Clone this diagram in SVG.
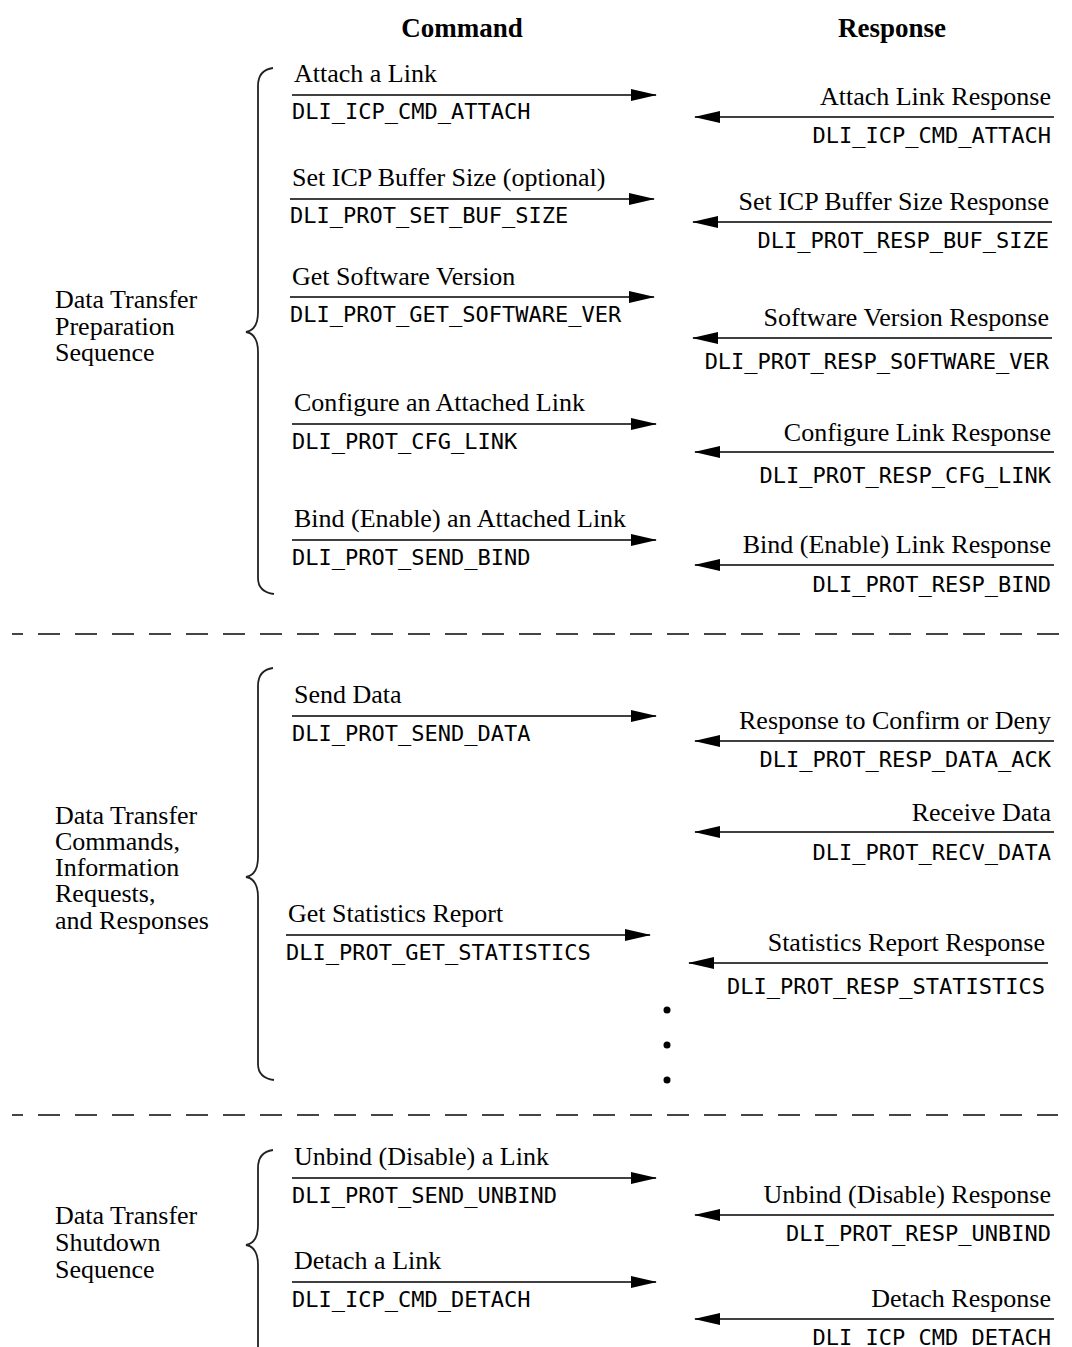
<svg xmlns="http://www.w3.org/2000/svg" width="1072" height="1347" viewBox="0 0 1072 1347">
<style>
.h{font-family:"Liberation Serif",serif;font-size:27px;font-weight:bold;fill:#000;text-anchor:middle}
.s{font-family:"Liberation Serif",serif;font-size:26px;fill:#000}
.m{font-family:"DejaVu Sans Mono","Liberation Mono",monospace;font-size:22px;fill:#000}
.r{text-anchor:end}
.a{stroke:#000;stroke-width:1.6;fill:none;marker-end:url(#ah)}
.b{stroke:#222;stroke-width:1.8;fill:none}
.d{stroke:#444;stroke-width:2;stroke-dasharray:22 15}
</style>
<defs>
<marker id="ah" markerWidth="26" markerHeight="12" refX="25" refY="6" orient="auto" markerUnits="userSpaceOnUse">
<path d="M0,0 L26,6 L0,12 Z" fill="#000"/>
</marker>
</defs>
<rect width="1072" height="1347" fill="#fff"/>
<g id="headers">
<text class="h" x="462" y="37">Command</text>
<text class="h" x="892" y="37">Response</text>
</g>
<g id="separators">
<line class="d" x1="12" y1="634" x2="1072" y2="634" stroke-dashoffset="11"/>
<line class="d" x1="12" y1="1115" x2="1058" y2="1115" stroke-dashoffset="11"/>
</g>
<g id="braces">
<path class="b" d="M273,68 Q258,70 258,86 L258,312 Q258,330 246,332 Q258,334 258,352 L258,578 Q258,592 274,594"/>
<path class="b" d="M273,668 Q258,670 258,686 L258,857 Q258,875 246,877 Q258,879 258,897 L258,1064 Q258,1078 274,1080"/>
<path class="b" d="M273,1150 Q258,1152 258,1168 L258,1225 Q258,1243 246,1245 Q258,1247 258,1265 L258,1347"/>
</g>
<g id="group-prep">
<text class="s" x="55" y="308">Data Transfer</text>
<text class="s" x="55" y="335">Preparation</text>
<text class="s" x="55" y="361">Sequence</text>
</g>
<g id="group-data">
<text class="s" x="55" y="824">Data Transfer</text>
<text class="s" x="55" y="850">Commands,</text>
<text class="s" x="55" y="876">Information</text>
<text class="s" x="55" y="902">Requests,</text>
<text class="s" x="55" y="929">and Responses</text>
</g>
<g id="group-shutdown">
<text class="s" x="55" y="1224">Data Transfer</text>
<text class="s" x="55" y="1251">Shutdown</text>
<text class="s" x="55" y="1278">Sequence</text>
</g>
<g id="connectors">
<line class="a" x1="292" y1="95" x2="656" y2="95"/>
<line class="a" x1="290" y1="199" x2="654" y2="199"/>
<line class="a" x1="290" y1="297" x2="654" y2="297"/>
<line class="a" x1="292" y1="424" x2="656" y2="424"/>
<line class="a" x1="292" y1="540" x2="656" y2="540"/>
<line class="a" x1="292" y1="716" x2="656" y2="716"/>
<line class="a" x1="286" y1="935" x2="650" y2="935"/>
<line class="a" x1="292" y1="1178" x2="656" y2="1178"/>
<line class="a" x1="292" y1="1282" x2="656" y2="1282"/>
<line class="a" x1="1054" y1="117" x2="695" y2="117"/>
<line class="a" x1="1052" y1="222" x2="693" y2="222"/>
<line class="a" x1="1052" y1="338" x2="693" y2="338"/>
<line class="a" x1="1054" y1="452" x2="695" y2="452"/>
<line class="a" x1="1054" y1="565" x2="695" y2="565"/>
<line class="a" x1="1054" y1="741" x2="695" y2="741"/>
<line class="a" x1="1054" y1="832" x2="695" y2="832"/>
<line class="a" x1="1048" y1="963" x2="689" y2="963"/>
<line class="a" x1="1054" y1="1215" x2="695" y2="1215"/>
<line class="a" x1="1054" y1="1319" x2="695" y2="1319"/>
</g>
<g id="cmd-attach"><text class="s" x="294" y="82">Attach a Link</text><text class="m" x="292" y="119">DLI_ICP_CMD_ATTACH</text></g>
<g id="cmd-bufsize"><text class="s" x="292" y="186">Set ICP Buffer Size (optional)</text><text class="m" x="290" y="223">DLI_PROT_SET_BUF_SIZE</text></g>
<g id="cmd-version"><text class="s" x="292" y="285">Get Software Version</text><text class="m" x="290" y="322">DLI_PROT_GET_SOFTWARE_VER</text></g>
<g id="cmd-cfg"><text class="s" x="294" y="411">Configure an Attached Link</text><text class="m" x="292" y="449">DLI_PROT_CFG_LINK</text></g>
<g id="cmd-bind"><text class="s" x="294" y="527">Bind (Enable) an Attached Link</text><text class="m" x="292" y="565">DLI_PROT_SEND_BIND</text></g>
<g id="cmd-send"><text class="s" x="294" y="703">Send Data</text><text class="m" x="292" y="741">DLI_PROT_SEND_DATA</text></g>
<g id="cmd-stats"><text class="s" x="288" y="922">Get Statistics Report</text><text class="m" x="286" y="960">DLI_PROT_GET_STATISTICS</text></g>
<g id="cmd-unbind"><text class="s" x="294" y="1165">Unbind (Disable) a Link</text><text class="m" x="292" y="1203">DLI_PROT_SEND_UNBIND</text></g>
<g id="cmd-detach"><text class="s" x="294" y="1269">Detach a Link</text><text class="m" x="292" y="1307">DLI_ICP_CMD_DETACH</text></g>
<g id="rsp-attach"><text class="s r" x="1051" y="105">Attach Link Response</text><text class="m r" x="1051" y="143">DLI_ICP_CMD_ATTACH</text></g>
<g id="rsp-bufsize"><text class="s r" x="1049" y="210">Set ICP Buffer Size Response</text><text class="m r" x="1049" y="248">DLI_PROT_RESP_BUF_SIZE</text></g>
<g id="rsp-version"><text class="s r" x="1049" y="326">Software Version Response</text><text class="m r" x="1049" y="369">DLI_PROT_RESP_SOFTWARE_VER</text></g>
<g id="rsp-cfg"><text class="s r" x="1051" y="441">Configure Link Response</text><text class="m r" x="1051" y="483">DLI_PROT_RESP_CFG_LINK</text></g>
<g id="rsp-bind"><text class="s r" x="1051" y="553">Bind (Enable) Link Response</text><text class="m r" x="1051" y="592">DLI_PROT_RESP_BIND</text></g>
<g id="rsp-ack"><text class="s r" x="1051" y="729">Response to Confirm or Deny</text><text class="m r" x="1051" y="767">DLI_PROT_RESP_DATA_ACK</text></g>
<g id="rsp-recv"><text class="s r" x="1051" y="821">Receive Data</text><text class="m r" x="1051" y="860">DLI_PROT_RECV_DATA</text></g>
<g id="rsp-stats"><text class="s r" x="1045" y="951">Statistics Report Response</text><text class="m r" x="1045" y="994">DLI_PROT_RESP_STATISTICS</text></g>
<g id="rsp-unbind"><text class="s r" x="1051" y="1203">Unbind (Disable) Response</text><text class="m r" x="1051" y="1241">DLI_PROT_RESP_UNBIND</text></g>
<g id="rsp-detach"><text class="s r" x="1051" y="1307">Detach Response</text><text class="m r" x="1051" y="1345">DLI_ICP_CMD_DETACH</text></g>
<g id="ellipsis">
<circle cx="667" cy="1010" r="3.5"/>
<circle cx="667" cy="1045" r="3.5"/>
<circle cx="667" cy="1080" r="3.5"/>
</g>
</svg>
